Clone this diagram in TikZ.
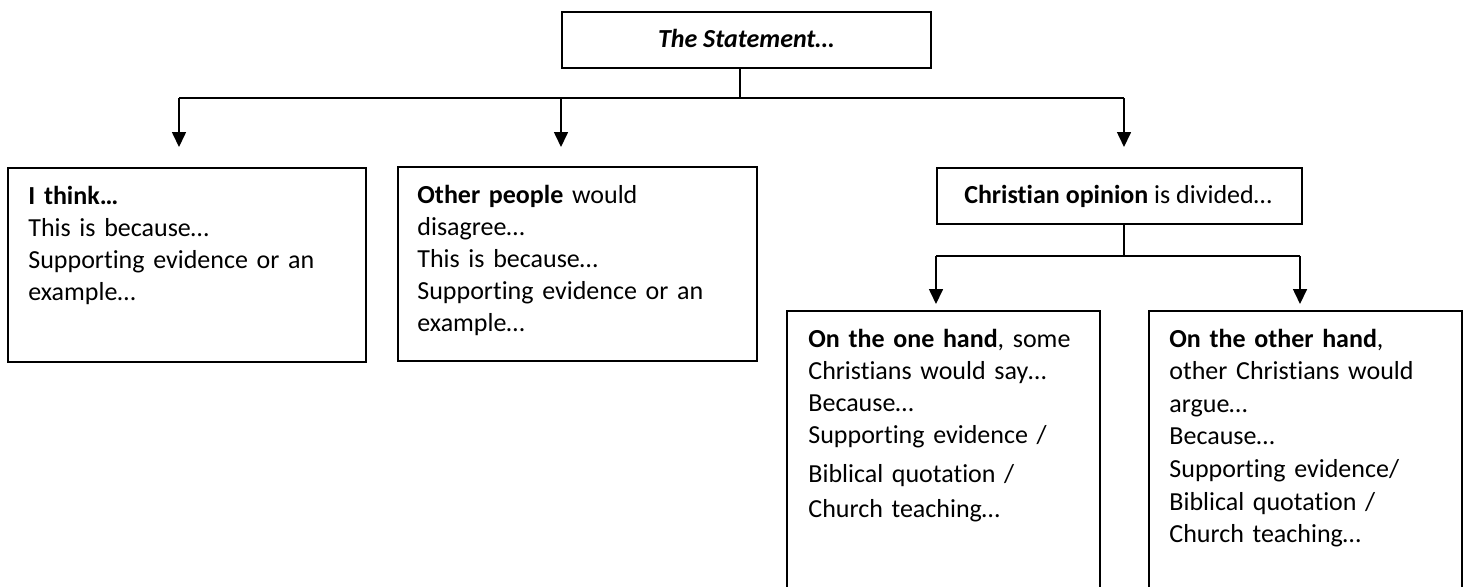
\documentclass[tikz,border=0pt]{standalone}
\usepackage{fontspec}
\setmainfont[Ligatures=NoCommon]{Carlito}
\usetikzlibrary{arrows.meta}
\begin{document}
\begin{tikzpicture}[x=0.5pt,y=-0.5pt,
  box/.style={draw, line width=0.75pt, inner sep=0pt, anchor=north west},
  txt/.style={anchor=base west, inner sep=0pt, align=left, text width=170pt,
    font=\fontsize{13}{16}\selectfont},
  ctxt/.style={anchor=base, inner sep=0pt, font=\fontsize{13}{16}\selectfont},
  link/.style={line width=0.7pt},
  arr/.style={line width=0.8pt, -{Triangle[width=7pt,length=7.5pt]}}]
\useasboundingbox (0,0) rectangle (1466,586);
\clip (0,0) rectangle (1466,586);
% boxes
\node[box, minimum width=184.5pt, minimum height=28pt] (top) at (561,11) {};
\node[ctxt, font=\fontsize{13}{16}\selectfont\bfseries\itshape] (topt) at (746,47) {The Statement…};
\node[box, minimum width=179pt, minimum height=97pt] (b1) at (7,167) {};
\node[txt] (b1t) at (28,204) {\textbf{I think…}\\This is because…\\Supporting evidence or an\\example…};
\node[box, minimum width=179.5pt, minimum height=97pt] (b2) at (397,166) {};
\node[txt] (b2t) at (417,203) {\textbf{Other people} would\\disagree…\\This is because…\\Supporting evidence or an\\example…};
\node[box, minimum width=182.5pt, minimum height=28pt] (b3) at (936,167) {};
\node[ctxt] (b3t) at (1118,203) {\textbf{Christian opinion} is divided…};
\node[box, minimum width=156.5pt, minimum height=145pt] (b4) at (786,310) {};
\node[txt] (b4t) at (808,347) {\textbf{On the one hand}, some\\Christians would say…\\Because…\\Supporting evidence /\\[3.5pt]Biblical quotation /\\[1.5pt]Church teaching…};
\node[box, minimum width=156.5pt, minimum height=145pt] (b5) at (1148,310) {};
\node[txt, font=\fontsize{13}{16.3}\selectfont] (b5t) at (1169,347) {\textbf{On the other hand},\\other Christians would\\argue…\\Because…\\Supporting evidence/\\Biblical quotation /\\Church teaching…};
% junction coordinates
\coordinate (j0) at (740,98);
\coordinate (jl) at (179,98);
\coordinate (jm) at (561,98);
\coordinate (jr) at (1124,98);
\coordinate (a1) at (179,147);
\coordinate (a2) at (561,147);
\coordinate (a3) at (1124,147);
\coordinate (k0) at (1124,256);
\coordinate (kl) at (936,256);
\coordinate (kr) at (1300,256);
\coordinate (a4) at (936,304);
\coordinate (a5) at (1300,304);
% connectors
\draw[link] (top.south -| j0) -- (j0);
\draw[link] (jl) -- (jr);
\draw[arr] (jl) -- (a1);
\draw[arr] (jm) -- (a2);
\draw[arr] (jr) -- (a3);
\draw[link] (b3.south -| k0) -- (k0);
\draw[link] (kl) -- (kr);
\draw[arr] (kl) -- (a4);
\draw[arr] (kr) -- (a5);
\end{tikzpicture}
\end{document}
